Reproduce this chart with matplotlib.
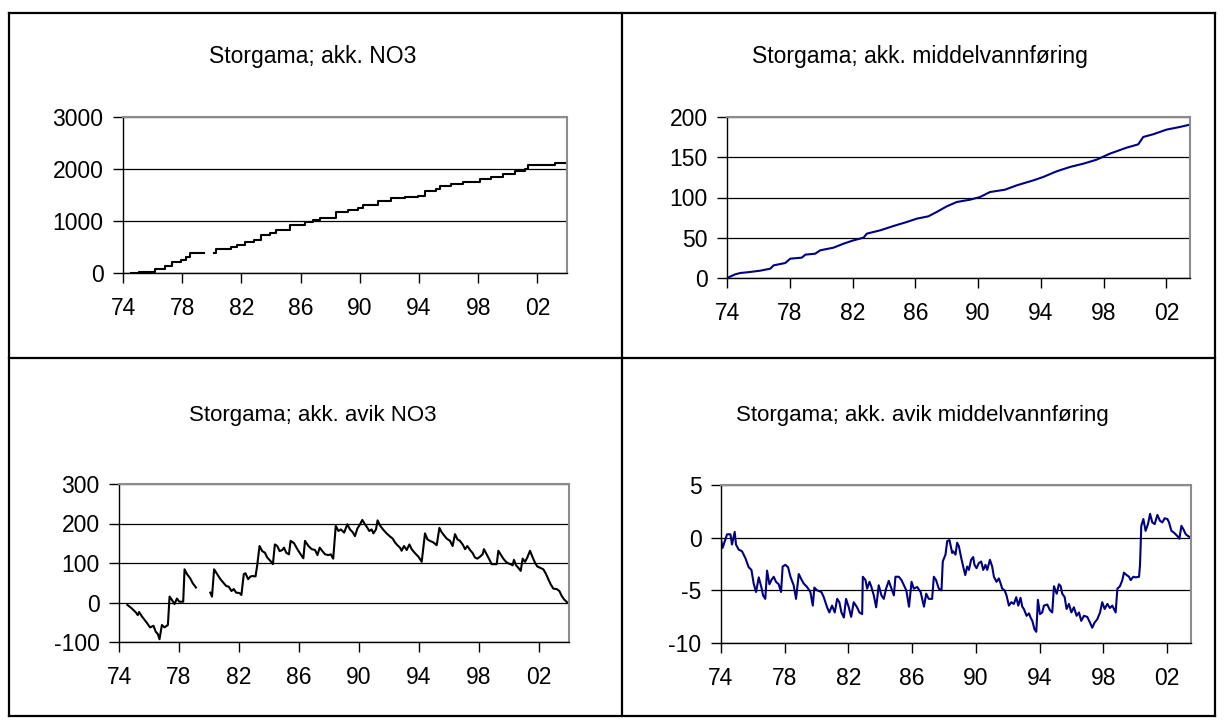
import matplotlib
matplotlib.use("Agg")
import matplotlib.pyplot as plt
import numpy as np
from matplotlib.lines import Line2D

plt.rcParams['font.family'] = ['Liberation Sans', 'DejaVu Sans']
plt.rcParams['axes.unicode_minus'] = False

# x axis (shared by all four charts)
x_ticks = [1974, 1978, 1982, 1986, 1990, 1994, 1998, 2002]
x_labels = ['74', '78', '82', '86', '90', '94', '98', '02']

titles = ["Storgama; akk. NO3", "Storgama; akk. middelvannføring",
          "Storgama; akk. avik NO3", "Storgama; akk. avik middelvannføring"]

# akk. NO3 (step series, gap 1979-1980)
no3_year = [1974.56, 1975.08, 1976.14, 1976.82, 1977.33, 1977.94, 1978.24, 1978.51, 1979.23,
            1979.50,
            1980.15, 1980.31, 1981.32, 1981.70, 1982.22, 1982.83, 1983.35, 1983.91, 1984.36,
            1985.26, 1986.28, 1986.84, 1987.29, 1988.30, 1988.42, 1989.21, 1989.88, 1990.22,
            1991.23, 1992.13, 1993.04, 1993.94, 1994.39, 1995.18, 1995.40, 1996.19, 1996.98,
            1998.10, 1998.89, 1999.68, 2000.47, 2001.15, 2001.37, 2003.17, 2004.00]
no3_cum = [0, 19, 70, 128, 211, 256, 307, 383, 383,
           np.nan,
           383, 466, 498, 530, 594, 639, 722, 767, 818,
           914, 978, 1022, 1054, 1061, 1169, 1214, 1252, 1316,
           1393, 1438, 1470, 1489, 1572, 1617, 1681, 1713, 1757,
           1808, 1853, 1904, 1955, 2000, 2077, 2109, 2109]

# akk. middelvannføring
q_year = [1974.00, 1974.53, 1974.85, 1975.48, 1976.12, 1976.76, 1976.97, 1977.71, 1978.03,
          1978.77, 1978.99, 1979.62, 1979.94, 1980.79, 1981.42, 1982.06, 1982.70, 1982.91,
          1983.76, 1984.61, 1985.46, 1986.09, 1986.83, 1987.36, 1988.00, 1988.64, 1989.49,
          1990.12, 1990.76, 1991.71, 1992.46, 1993.52, 1994.15, 1995.00, 1995.85, 1996.70,
          1997.55, 1998.40, 1999.46, 2000.20, 2000.52, 2001.15, 2002.00, 2002.85, 2003.49]
q_cum = [0, 4.6, 6.2, 7.5, 9.1, 11.6, 15.7, 18.6, 24.0,
         25.3, 29.0, 30.2, 34.4, 37.7, 42.6, 46.8, 50.1, 55.1,
         59.2, 64.6, 69.6, 73.7, 76.6, 82.0, 89.0, 94.4, 97.3,
         100.6, 106.8, 109.7, 115.1, 121.3, 125.5, 132.5, 137.9, 142.0,
         147.0, 154.5, 161.9, 166.0, 175.2, 178.5, 184.3, 187.6, 190.5]

# akk. avik NO3 (gap 1979-1980)
dno3_year = [1974.56, 1974.85, 1975.12, 1975.25, 1975.34, 1975.52, 1975.85, 1976.07, 1976.30,
             1976.45, 1976.59, 1976.70, 1976.86, 1977.03, 1977.26, 1977.37, 1977.52, 1977.70,
             1977.86, 1978.02, 1978.28, 1978.37, 1978.53, 1978.75, 1978.91, 1979.13,
             1979.60,
             1980.09, 1980.20, 1980.34, 1980.54, 1980.76, 1980.98, 1981.14, 1981.32, 1981.50,
             1981.65, 1981.81, 1982.03, 1982.16, 1982.32, 1982.43, 1982.61, 1982.77, 1982.92,
             1983.10, 1983.21, 1983.37, 1983.55, 1983.73, 1983.88, 1984.10, 1984.26, 1984.39,
             1984.55, 1984.71, 1984.89, 1985.00, 1985.15, 1985.33, 1985.44, 1985.67, 1985.89,
             1986.11, 1986.29, 1986.40, 1986.63, 1986.85, 1987.07, 1987.23, 1987.38, 1987.56,
             1987.74, 1987.96, 1988.12, 1988.28, 1988.45, 1988.63, 1988.79, 1989.01, 1989.22,
             1989.40, 1989.58, 1989.73, 1989.89, 1990.07, 1990.22, 1990.40, 1990.56, 1990.69,
             1990.84, 1990.96, 1991.13, 1991.24, 1991.40, 1991.62, 1991.84, 1992.07, 1992.24,
             1992.40, 1992.56, 1992.73, 1992.84, 1993.00, 1993.18, 1993.36, 1993.51, 1993.73,
             1993.96, 1994.18, 1994.40, 1994.56, 1994.73, 1994.96, 1995.18, 1995.36, 1995.51,
             1995.67, 1995.84, 1996.07, 1996.24, 1996.40, 1996.56, 1996.73, 1996.91, 1997.07,
             1997.22, 1997.40, 1997.58, 1997.73, 1997.89, 1998.07, 1998.24, 1998.33, 1998.51,
             1998.69, 1998.84, 1999.00, 1999.18, 1999.29, 1999.44, 1999.62, 1999.80, 1999.96,
             2000.11, 2000.24, 2000.33, 2000.47, 2000.62, 2000.78, 2000.91, 2001.07, 2001.22,
             2001.40, 2001.58, 2001.73, 2001.89, 2002.07, 2002.29, 2002.47, 2002.62, 2002.78,
             2002.96, 2003.18, 2003.36, 2003.51, 2003.67, 2003.89]
dno3_cum = [-6, -15, -25, -32, -24, -35, -51, -63, -59,
            -74, -80, -93, -57, -63, -57, 15, 7, -4,
            10, 2, 2, 84, 72, 61, 49, 38,
            np.nan,
            25, 15, 84, 72, 59, 49, 42, 40, 29,
            34, 25, 24, 19, 72, 74, 59, 66, 67,
            66, 93, 143, 130, 126, 114, 105, 97, 147,
            143, 130, 133, 139, 126, 122, 156, 150, 135,
            122, 112, 156, 143, 135, 133, 120, 139, 130,
            122, 120, 122, 111, 194, 181, 185, 177, 198,
            185, 178, 168, 187, 198, 209, 198, 189, 181,
            185, 175, 185, 208, 195, 184, 175, 167, 162,
            152, 145, 139, 131, 143, 133, 147, 135, 125,
            116, 103, 175, 160, 156, 152, 145, 189, 178,
            170, 162, 156, 143, 173, 160, 156, 147, 135,
            143, 133, 125, 114, 111, 116, 122, 135, 122,
            109, 97, 97, 97, 131, 122, 111, 103, 99,
            97, 94, 108, 94, 88, 80, 111, 103, 114,
            131, 114, 101, 91, 88, 84, 72, 59, 46,
            35, 34, 29, 17, 8, 0]

# akk. avik middelvannføring
dq_year = [1974.00, 1974.10, 1974.38, 1974.59, 1974.69, 1974.86, 1974.94, 1975.11, 1975.32,
           1975.53, 1975.74, 1975.91, 1976.05, 1976.20, 1976.37, 1976.53, 1976.64, 1976.78,
           1976.89, 1977.04, 1977.16, 1977.31, 1977.45, 1977.62, 1977.77, 1977.87, 1978.04,
           1978.21, 1978.36, 1978.56, 1978.71, 1978.88, 1979.05, 1979.19, 1979.40, 1979.61,
           1979.76, 1979.86, 1980.03, 1980.30, 1980.45, 1980.66, 1980.80, 1980.97, 1981.14,
           1981.29, 1981.43, 1981.56, 1981.71, 1981.85, 1982.02, 1982.17, 1982.33, 1982.54,
           1982.69, 1982.86, 1982.90, 1983.07, 1983.17, 1983.32, 1983.44, 1983.59, 1983.74,
           1983.90, 1984.07, 1984.22, 1984.36, 1984.53, 1984.70, 1984.85, 1984.95, 1985.16,
           1985.33, 1985.48, 1985.63, 1985.80, 1985.96, 1986.10, 1986.31, 1986.53, 1986.74,
           1986.88, 1987.04, 1987.25, 1987.36, 1987.50, 1987.67, 1987.84, 1987.92, 1988.09,
           1988.20, 1988.34, 1988.51, 1988.57, 1988.72, 1988.82, 1988.93, 1989.08, 1989.20,
           1989.33, 1989.45, 1989.56, 1989.70, 1989.83, 1989.91, 1990.04, 1990.18, 1990.33,
           1990.46, 1990.60, 1990.71, 1990.88, 1991.02, 1991.13, 1991.29, 1991.44, 1991.55,
           1991.65, 1991.80, 1991.92, 1992.07, 1992.22, 1992.38, 1992.53, 1992.66, 1992.80,
           1992.91, 1993.01, 1993.18, 1993.33, 1993.43, 1993.54, 1993.68, 1993.79, 1993.89,
           1994.02, 1994.16, 1994.27, 1994.48, 1994.64, 1994.79, 1994.90, 1995.07, 1995.21,
           1995.32, 1995.42, 1995.57, 1995.69, 1995.84, 1995.99, 1996.15, 1996.32, 1996.47,
           1996.61, 1996.78, 1996.99, 1997.16, 1997.30, 1997.45, 1997.62, 1997.79, 1997.93,
           1998.08, 1998.25, 1998.41, 1998.56, 1998.77, 1998.88, 1999.04, 1999.19, 1999.29,
           1999.46, 1999.61, 1999.71, 1999.88, 2000.03, 2000.24, 2000.30, 2000.38, 2000.51,
           2000.65, 2000.80, 2000.93, 2001.07, 2001.22, 2001.39, 2001.55, 2001.70, 2001.85,
           2002.02, 2002.12, 2002.27, 2002.43, 2002.64, 2002.77, 2002.90, 2003.02, 2003.17,
           2003.31, 2003.48]
dq_cum = [-0.16, -0.97, 0.32, 0.32, -0.65, 0.55, -0.65, -1.13, -1.29,
          -1.94, -2.81, -3.06, -4.35, -5.16, -3.77, -4.68, -5.48, -5.81,
          -3.13, -4.42, -4.03, -3.71, -4.19, -4.42, -5.16, -2.74, -2.58,
          -2.81, -3.71, -4.52, -5.81, -3.45, -3.97, -4.35, -4.68, -5.16,
          -6.45, -4.74, -5.00, -5.16, -5.65, -6.61, -7.10, -6.45, -7.10,
          -5.81, -6.13, -7.10, -7.58, -5.81, -6.61, -7.52, -6.13, -6.61,
          -7.10, -7.26, -3.71, -4.03, -4.84, -4.19, -4.68, -5.48, -6.61,
          -4.52, -5.48, -5.81, -4.84, -4.10, -4.84, -5.48, -3.71, -3.71,
          -4.03, -4.52, -5.00, -6.55, -4.19, -4.84, -4.68, -5.16, -6.55,
          -5.32, -5.81, -5.81, -3.71, -4.03, -4.84, -5.00, -2.26, -1.61,
          -0.32, -0.23, -1.45, -1.29, -1.61, -0.48, -0.81, -1.94, -2.74,
          -3.55, -2.74, -3.06, -2.10, -1.84, -2.58, -2.90, -2.42, -2.26,
          -3.06, -2.58, -3.06, -2.10, -2.74, -3.71, -4.19, -3.87, -4.35,
          -4.84, -5.00, -5.48, -6.45, -6.13, -6.29, -5.65, -6.45, -5.71,
          -6.55, -6.77, -7.42, -7.19, -7.58, -7.90, -8.71, -8.94, -5.90,
          -7.26, -7.10, -6.45, -6.35, -6.87, -7.10, -4.61, -5.32, -4.42,
          -4.61, -5.32, -5.65, -6.77, -6.29, -7.10, -6.61, -7.42, -7.10,
          -7.90, -7.42, -7.52, -8.06, -8.55, -8.06, -7.74, -7.10, -6.13,
          -6.77, -6.29, -6.68, -6.45, -7.10, -4.84, -4.61, -4.03, -3.32,
          -3.55, -3.71, -4.03, -3.71, -3.77, -3.71, -2.58, 1.13, 1.77,
          0.65, 1.29, 2.26, 1.45, 1.29, 2.16, 1.61, 1.45, 1.84,
          1.77, 1.45, 0.65, 0.48, 0.16, -0.10, 1.13, 0.81, 0.32,
          0.16, 0.00]

W, H = 1225, 726
fig = plt.figure(figsize=(W / 100, H / 100), dpi=100)


def px_axes(l, t, r, b):
    return fig.add_axes([l / W, 1 - b / H, (r - l) / W, (b - t) / H])


def style(ax, xmax, ylim, yticks):
    ax.set_xlim(1974, xmax)
    ax.set_ylim(*ylim)
    ax.set_yticks(yticks)
    ax.set_xticks(x_ticks)
    ax.set_xticklabels(x_labels)
    ax.grid(axis='y', color='black', lw=0.9)
    ax.grid(axis='x', visible=False)
    ax.set_axisbelow(True)
    for s in ['top', 'right']:
        ax.spines[s].set_color('#8c8c8c')
        ax.spines[s].set_linewidth(1.5)
    for s in ['left', 'bottom']:
        ax.spines[s].set_color('black')
        ax.spines[s].set_linewidth(1.0)
    ax.tick_params(direction='out', length=7, width=1, labelsize=16.5)
    ax.tick_params(axis='x', pad=10)
    ax.tick_params(axis='y', pad=7)


ax1 = px_axes(123, 117, 567, 273)
ax1.plot(no3_year, no3_cum, color='black', lw=1.5, drawstyle='steps-post')
style(ax1, 2004, (0, 3000), [0, 1000, 2000, 3000])

ax2 = px_axes(727, 117, 1190, 278)
ax2.plot(q_year, q_cum, color='#000080', lw=1.5)
style(ax2, 2003.5, (0, 200), [0, 50, 100, 150, 200])

ax3 = px_axes(119, 484, 569, 642)
ax3.plot(dno3_year, dno3_cum, color='black', lw=1.5)
style(ax3, 2004, (-100, 300), [-100, 0, 100, 200, 300])

ax4 = px_axes(721, 485, 1191, 643)
ax4.plot(dq_year, dq_cum, color='#000080', lw=1.5)
style(ax4, 2003.5, (-10, 5), [-10, -5, 0, 5])

# titles
fig.text(313 / W, 1 - 57 / H, titles[0], ha='center', va='center', fontsize=16.5)
fig.text(920 / W, 1 - 57 / H, titles[1], ha='center', va='center', fontsize=16.5)
fig.text(313 / W, 1 - 416 / H, titles[2], ha='center', va='center', fontsize=16)
fig.text(922 / W, 1 - 416 / H, titles[3], ha='center', va='center', fontsize=16)

# frame around the four charts
x0, xm, x1 = 9, 622, 1215
y0, ym, y1 = 13, 358, 716
frame = [((x0, x1), (y0, y0)), ((x0, x1), (ym, ym)), ((x0, x1), (y1, y1)),
         ((x0, x0), (y0, y1)), ((xm, xm), (y0, y1)), ((x1, x1), (y0, y1))]
for xs, ys in frame:
    fig.add_artist(Line2D([xs[0] / W, xs[1] / W], [1 - ys[0] / H, 1 - ys[1] / H],
                          color='black', lw=1.6, transform=fig.transFigure))

fig.savefig("out.png", dpi=100)
